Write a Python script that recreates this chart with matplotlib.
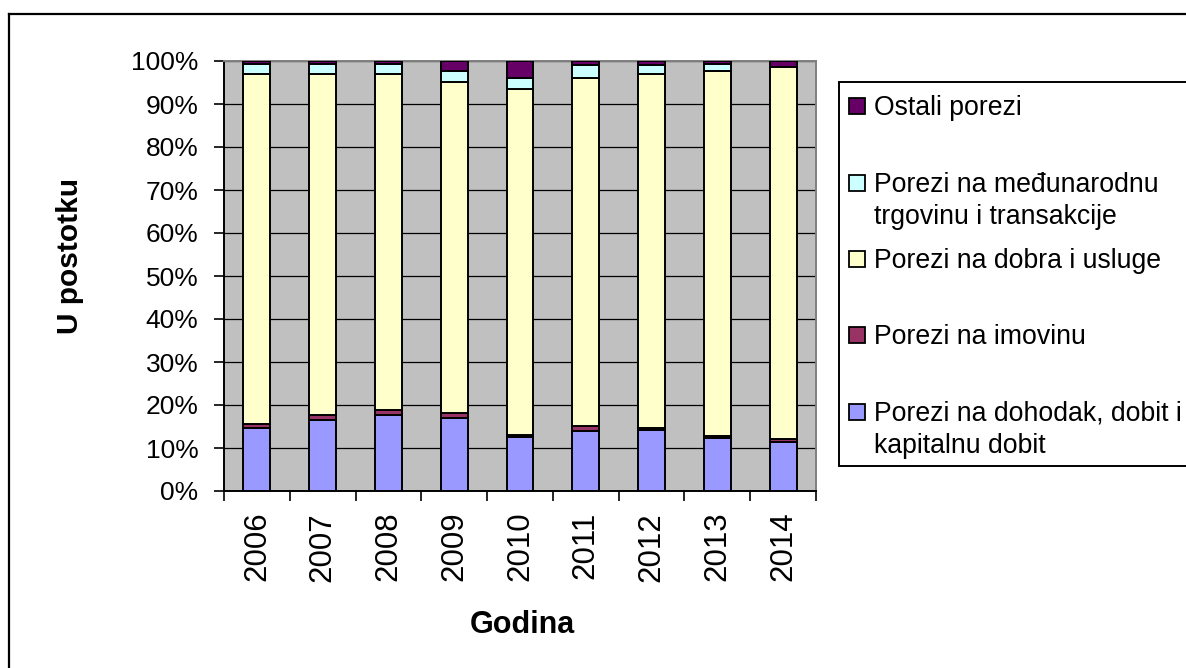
import matplotlib
matplotlib.use("Agg")
import matplotlib.pyplot as plt
from matplotlib.patches import Rectangle
from matplotlib.lines import Line2D

plt.rcParams["font.family"] = ["Liberation Sans", "DejaVu Sans"]

W, H = 1186, 668

years = ["2006", "2007", "2008", "2009", "2010", "2011", "2012", "2013", "2014"]
income_tax = [14.6, 16.5, 17.7, 17.0, 12.5, 14.0, 14.3, 12.4, 11.5]
property_tax = [1.0, 1.1, 1.1, 1.1, 0.6, 1.1, 0.4, 0.5, 0.5]
goods_tax = [81.3, 79.3, 78.1, 77.0, 80.5, 81.0, 82.2, 84.7, 86.7]
trade_tax = [2.3, 2.3, 2.3, 2.6, 2.5, 3.0, 2.2, 1.7, 0.0]
other_tax = [0.8, 0.8, 0.8, 2.3, 3.9, 0.9, 0.9, 0.7, 1.3]

series = [
    ("Porezi na dohodak, dobit i\nkapitalnu dobit", income_tax, "#9999FF"),
    ("Porezi na imovinu", property_tax, "#993366"),
    ("Porezi na dobra i usluge", goods_tax, "#FFFFCC"),
    ("Porezi na međunarodnu\ntrgovinu i transakcije", trade_tax, "#CCFFFF"),
    ("Ostali porezi", other_tax, "#660066"),
]


def fx(px):
    return px / W


def fy(py):
    return 1 - py / H


fig = plt.figure(figsize=(W / 100, H / 100), dpi=100)
ax = fig.add_axes([fx(224), fy(491), fx(816 - 224), (491 - 61) / H])
ax.set_facecolor("#C0C0C0")

x = list(range(len(years)))
bottom = [0.0] * len(years)
for label, values, color in series:
    ax.bar(x, values, bottom=bottom, width=0.41, color=color,
           edgecolor="black", linewidth=1.4, zorder=3)
    bottom = [b + v for b, v in zip(bottom, values)]

ax.set_xlim(-0.5, len(years) - 0.5)
ax.set_ylim(0, 100)
ax.set_yticks(range(0, 101, 10), [f"{v}%" for v in range(0, 101, 10)], fontsize=19)
ax.set_xticks([i - 0.5 for i in range(len(years) + 1)], [""] * (len(years) + 1))
ax.set_xticks(x, years, minor=True, rotation=90, fontsize=22.5)
ax.tick_params(axis="x", which="minor", length=0, pad=15)
ax.tick_params(axis="x", which="major", length=7.5, width=1.2, direction="out")
ax.tick_params(axis="y", length=7.5, width=1.2, direction="out", pad=11)
ax.grid(axis="y", color="black", linewidth=0.9, zorder=1)
ax.set_axisbelow(True)
for side in ["left", "bottom"]:
    ax.spines[side].set_color("black")
    ax.spines[side].set_linewidth(1.4)
for side in ["top", "right"]:
    ax.spines[side].set_color("#808080")
    ax.spines[side].set_linewidth(1.4)

fig.text(fx(70), fy(256), "U postotku", rotation=90, ha="center", va="center",
         fontsize=21.5, fontweight="bold")
fig.text(fx(522), fy(625), "Godina", ha="center", va="center",
         fontsize=22, fontweight="bold")

# chart frame (only left and top edges are visible in the crop)
fig.add_artist(Line2D([fx(9), fx(9)], [fy(14), 0], color="black", linewidth=1.6))
fig.add_artist(Line2D([fx(9), 1], [fy(14), fy(14)], color="black", linewidth=1.6))

# legend box
fig.add_artist(Rectangle((fx(839), fy(466)), fx(400), (466 - 82) / H,
                         facecolor="white", edgecolor="black", linewidth=1.4))

marker_bottoms = [114, 191, 267, 343, 420]
for (label, _, color), mb in zip(reversed(series), marker_bottoms):
    fig.add_artist(Rectangle((fx(849), fy(mb)), fx(16), 16 / H,
                             facecolor=color, edgecolor="black", linewidth=1.3))
    for k, line in enumerate(label.split("\n")):
        fig.text(fx(874), fy(mb + 1 + 32 * k), line, ha="left", va="baseline",
                 fontsize=19.2)

fig.savefig("out.png", dpi=100)
